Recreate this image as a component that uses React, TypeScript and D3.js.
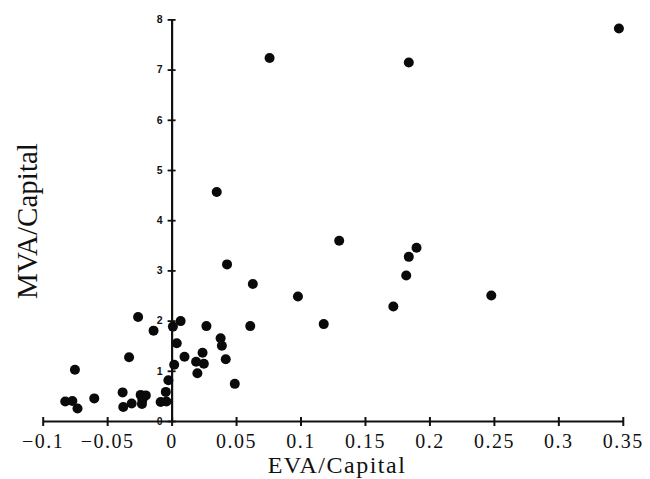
import * as d3 from 'd3';
import { useEffect, useRef } from 'react';

// EVA/Capital (x) and MVA/Capital (y)
const evaCapital = [
  0.347, 0.184, 0.076, 0.035, 0.130, 0.190, 0.184, 0.182, 0.098, 0.248,
  0.172, 0.118, 0.043, 0.063, 0.007, 0.001, -0.014, 0.027, 0.061, 0.038,
  0.039, 0.004, 0.010, 0.024, 0.019, 0.025, 0.042, 0.020, 0.002, 0.049,
  -0.0025, -0.0045, -0.026, -0.033, -0.075, -0.038, -0.024, -0.020, -0.023, -0.0227,
  -0.031, -0.0375, -0.0085, -0.004, -0.060, -0.0825, -0.077, -0.073,
];
const mvaCapital = [
  7.82, 7.14, 7.23, 4.56, 3.59, 3.45, 3.27, 2.90, 2.48, 2.50,
  2.28, 1.93, 3.12, 2.73, 1.99, 1.88, 1.80, 1.89, 1.89, 1.65,
  1.50, 1.55, 1.28, 1.36, 1.18, 1.14, 1.23, 0.95, 1.12, 0.74,
  0.81, 0.58, 2.07, 1.27, 1.02, 0.57, 0.52, 0.51, 0.34, 0.42,
  0.35, 0.28, 0.38, 0.39, 0.45, 0.39, 0.40, 0.25,
];

const xTicks = [-0.1, -0.05, 0, 0.05, 0.1, 0.15, 0.2, 0.25, 0.3, 0.35];
const xTickLabels = ['\u22120.1', '\u22120.05', '0', '0.05', '0.1', '0.15', '0.2', '0.25', '0.3', '0.35'];
const yTicks = [0, 1, 2, 3, 4, 5, 6, 7, 8];

const W = 650;
const H = 479;

const App = () => {
  const ref = useRef(null);

  useEffect(() => {
    const svg = d3.select(ref.current);
    svg.selectAll('*').remove();

    const x = d3.scaleLinear().domain([-0.1, 0.35]).range([42.7, 622.8]);
    const y = d3.scaleLinear().domain([0, 8]).range([421, 19.4]);
    const serif = '"Liberation Serif", "DejaVu Serif", serif';

    svg.append('rect').attr('width', W).attr('height', H).style('fill', '#fff');

    // x axis at y = 0
    const gx = svg
      .append('g')
      .attr('transform', `translate(0, ${y(0)})`)
      .call(
        d3
          .axisBottom(x)
          .tickValues(xTicks)
          .tickSizeOuter(0)
          .tickSizeInner(5)
          .tickFormat((d, i) => xTickLabels[i])
      );
    gx.select('.domain').attr('stroke', '#111').attr('stroke-width', 2.2);
    gx.selectAll('.tick line').attr('y1', -4).attr('y2', 5).attr('stroke', '#111').attr('stroke-width', 2);
    gx.selectAll('.tick text')
      .attr('y', 26.5)
      .attr('dy', 0)
      .style('font-family', serif)
      .style('font-size', '20px')
      .style('letter-spacing', '1.5px')
      .attr('fill', '#111');

    // y axis at x = 0
    const gy = svg
      .append('g')
      .attr('transform', `translate(${x(0)}, 0)`)
      .call(
        d3
          .axisLeft(y)
          .tickValues(yTicks)
          .tickSizeOuter(0)
          .tickSizeInner(4)
          .tickPadding(5)
          .tickFormat(d3.format('d'))
      );
    gy.select('.domain').attr('stroke', '#111').attr('stroke-width', 2.2);
    gy.selectAll('.tick line').attr('x1', -4).attr('x2', 4).attr('stroke', '#111').attr('stroke-width', 1.8);
    gy.selectAll('.tick text')
      .style('font-family', '"Liberation Sans", Arial, sans-serif')
      .style('font-size', '10.5px')
      .style('font-weight', 'bold')
      .attr('fill', '#111');

    // points
    svg
      .append('g')
      .selectAll('circle')
      .data(evaCapital)
      .enter()
      .append('circle')
      .attr('cx', (d) => x(d))
      .attr('cy', (d, i) => y(mvaCapital[i]))
      .attr('r', 5)
      .style('fill', '#0a0a0a');

    // axis titles
    svg
      .append('text')
      .attr('x', 337)
      .attr('y', 473)
      .attr('text-anchor', 'middle')
      .style('font-family', serif)
      .style('font-size', '24px')
      .style('letter-spacing', '1.5px')
      .attr('fill', '#111')
      .text('EVA/Capital');

    svg
      .append('text')
      .attr('transform', 'translate(37, 221) rotate(-90)')
      .attr('text-anchor', 'middle')
      .style('font-family', serif)
      .style('font-size', '29px')
      .attr('fill', '#111')
      .text('MVA/Capital');
  }, []);

  return (
    <svg
      ref={ref}
      width={W}
      height={H}
      style={{ position: 'absolute', left: 0, top: 0, display: 'block' }}
    />
  );
};

export default App;
